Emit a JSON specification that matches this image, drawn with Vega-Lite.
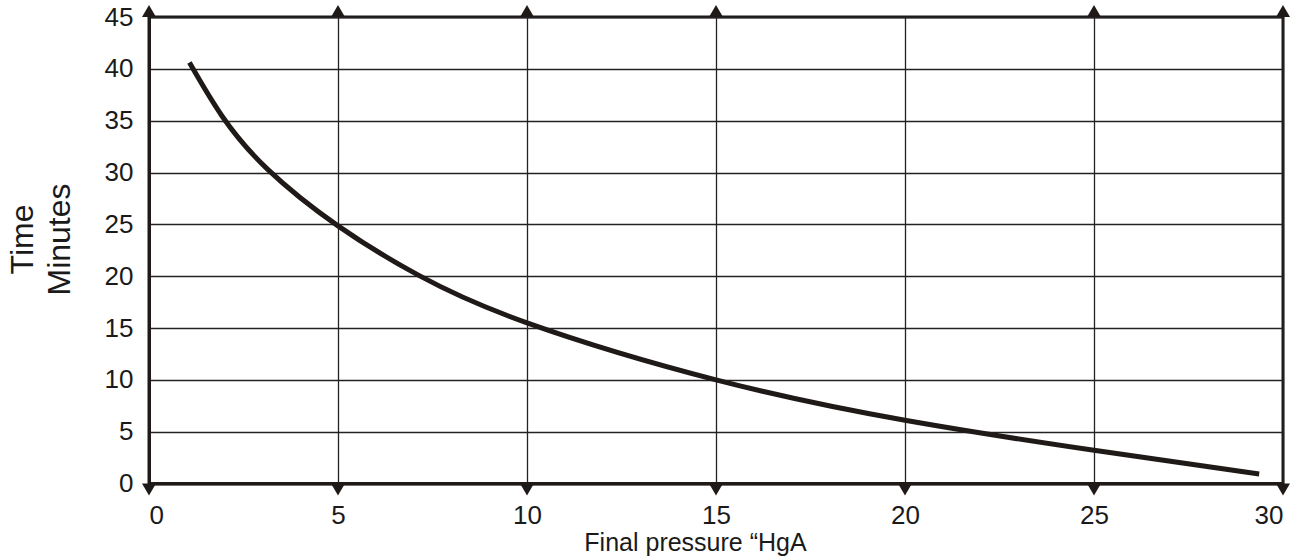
{
  "$schema": "https://vega.github.io/schema/vega-lite/v6.json",
  "width": 1134,
  "height": 466.5,
  "autosize": "none",
  "padding": {"left": 149, "top": 17, "right": 30, "bottom": 73.5},
  "background": "white",
  "config": {
    "font": "Liberation Sans",
    "view": {"stroke": "#1f1a17", "strokeWidth": 3},
    "axis": {
      "grid": true,
      "gridColor": "#222222",
      "gridWidth": 1.3,
      "gridOpacity": 1,
      "ticks": false,
      "domainColor": "#1f1a17",
      "domainWidth": 3,
      "labelFontSize": 26,
      "labelColor": "#1a1a1a",
      "titleColor": "#1a1a1a",
      "titleFontWeight": "normal"
    }
  },
  "datasets": {
    "curve": [
      {"pressure": 1.07, "time": 40.6},
      {"pressure": 1.94, "time": 35.4},
      {"pressure": 3.14, "time": 30.3},
      {"pressure": 5.0, "time": 24.85},
      {"pressure": 7.15, "time": 20.05},
      {"pressure": 10.0, "time": 15.5},
      {"pressure": 15.0, "time": 10.0},
      {"pressure": 20.0, "time": 6.1},
      {"pressure": 25.0, "time": 3.2},
      {"pressure": 29.37, "time": 0.92}
    ],
    "arrowsTop": [
      {"pressure": 0, "time": 45},
      {"pressure": 5, "time": 45},
      {"pressure": 10, "time": 45},
      {"pressure": 15, "time": 45},
      {"pressure": 25, "time": 45},
      {"pressure": 30, "time": 45}
    ],
    "arrowsBottom": [
      {"pressure": 0, "time": 0},
      {"pressure": 5, "time": 0},
      {"pressure": 10, "time": 0},
      {"pressure": 15, "time": 0},
      {"pressure": 20, "time": 0},
      {"pressure": 25, "time": 0},
      {"pressure": 30, "time": 0}
    ]
  },
  "encoding": {
    "x": {
      "field": "pressure",
      "type": "quantitative",
      "scale": {"domain": [0, 30], "nice": false, "zero": false},
      "axis": {
        "values": [0, 5, 10, 15, 20, 25, 30],
        "labelPadding": 19,
        "title": "Final pressure “HgA",
        "titleFontSize": 25,
        "titleX": 546,
        "titleY": 67,
        "titleAlign": "center",
        "titleBaseline": "alphabetic"
      }
    },
    "y": {
      "field": "time",
      "type": "quantitative",
      "scale": {"domain": [0, 45], "nice": false},
      "axis": {
        "values": [0, 5, 10, 15, 20, 25, 30, 35, 40, 45],
        "labelPadding": 16,
        "title": ["Time", "Minutes"],
        "titleFontSize": 32,
        "titleLineHeight": 37,
        "titleAngle": -90,
        "titleX": -127,
        "titleY": 222,
        "titleAlign": "center",
        "titleBaseline": "middle"
      }
    }
  },
  "layer": [
    {
      "data": {"name": "curve"},
      "mark": {"type": "line", "interpolate": "natural", "strokeWidth": 5, "color": "#1f1a17", "strokeCap": "butt"}
    },
    {
      "data": {"name": "arrowsTop"},
      "mark": {"type": "point", "shape": "triangle-up", "size": 196, "filled": true, "opacity": 1, "color": "#1f1a17", "yOffset": -6}
    },
    {
      "data": {"name": "arrowsBottom"},
      "mark": {"type": "point", "shape": "triangle-down", "size": 196, "filled": true, "opacity": 1, "color": "#1f1a17", "yOffset": 6}
    }
  ]
}
